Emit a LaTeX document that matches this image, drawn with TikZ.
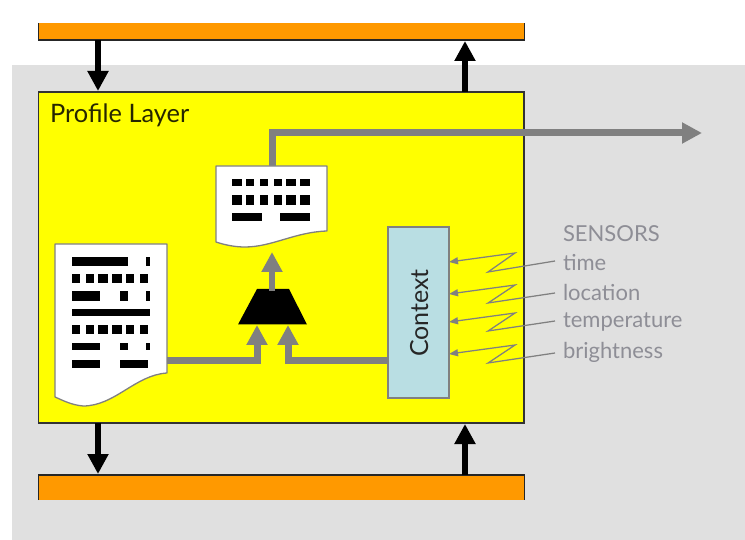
\documentclass[tikz,border=0pt]{standalone}
\usepackage{fontspec}
\setmainfont{Lato}
\usetikzlibrary{arrows.meta,calc}
\definecolor{bgG}{HTML}{E0E0E0}
\definecolor{orangeB}{HTML}{FF9900}
\definecolor{yellowB}{HTML}{FFFF00}
\definecolor{ctxB}{HTML}{B9DEE3}
\definecolor{pipeG}{HTML}{808080}
\definecolor{senseT}{HTML}{8E8E96}
\tikzset{
  bar/.style={fill=orangeB,draw=none,minimum width=486pt,inner sep=0pt,outer sep=0pt,anchor=north west},
  barline/.style={draw=black!85,line width=1.3pt},
  layerbox/.style={fill=yellowB,draw=black!80,line width=1.4pt,minimum width=485.5pt,minimum height=331pt,inner sep=0pt,outer sep=0pt,anchor=north west},
  ctxbox/.style={fill=ctxB,draw=pipeG,line width=1.2pt,minimum width=61pt,minimum height=171pt,inner sep=0pt,outer sep=0pt,anchor=north west},
  docshape/.style={fill=white,draw=pipeG,line width=1.3pt,line join=round},
  bigblack/.style={draw=black,line width=6pt,-{Triangle[width=20pt,length=20pt]}},
  pipe/.style={draw=pipeG,line width=7pt,-{Triangle[width=20pt,length=20pt]}},
  sense/.style={draw=pipeG,line width=1.25pt,line join=miter,-{Triangle[width=7pt,length=9pt]}},
  senselabel/.style={text=senseT,font=\fontsize{22}{24}\selectfont,anchor=base west,inner sep=0pt,outer sep=0pt},
  mk/.style={fill=black,draw=none},
}
\newcommand{\mkrow}[3]{\foreach \a/\b in {#3}{\fill[mk] (\a,#1) rectangle (\b,#2);}}
\begin{document}
\begin{tikzpicture}[x=1pt,y=-1pt]
\useasboundingbox (0,0) rectangle (745,540);
\node[fill=bgG,minimum width=733pt,minimum height=475pt,inner sep=0pt,outer sep=0pt,anchor=north west] (bg) at (12,65) {};
% buses
\node[bar,minimum height=17pt] (topbus) at (38.5,23) {};
\draw[barline] (topbus.north west) -- (topbus.south west) -- (topbus.south east) -- (topbus.north east);
\node[bar,minimum height=25pt] (botbus) at (38.5,475) {};
\draw[barline] (botbus.south west) -- (botbus.north west) -- (botbus.north east) -- (botbus.south east);
% layer
\node[layerbox] (layer) at (38.5,92) {};
\node[anchor=base west,inner sep=0pt,font=\fontsize{25.4}{27}\selectfont,text=black!85!yellowB] (title) at (50,122.5) {Profile Layer};
% context
\node[ctxbox] (ctx) at (388,227) {};
\node[rotate=90,anchor=base,inner sep=0pt,font=\fontsize{25}{27}\selectfont,text=black!85] (ctxt) at (428,313) {Context};
% bus arrows
\coordinate (a1s) at (98,40); \coordinate (a1e) at (98,91);
\coordinate (a2s) at (465,92); \coordinate (a2e) at (465,41);
\coordinate (a3s) at (98,423); \coordinate (a3e) at (98,474);
\coordinate (a4s) at (465,475); \coordinate (a4e) at (465,424);
\draw[bigblack] (a1s) -- (a1e);
\draw[bigblack] (a2s) -- (a2e);
\draw[bigblack] (a3s) -- (a3e);
\draw[bigblack] (a4s) -- (a4e);
% output pipe
\coordinate (docTop) at (272,167);
\coordinate (outEnd) at (702,133);
\draw[pipe] (docTop) |- (outEnd);
% big doc
\coordinate (bigR) at (167,360.5);
\draw[docshape] (55,244) -- (167,244) -- (167,373) .. controls (135,375) and (115,406) .. (83,406) .. controls (72,405) and (64,401) .. (55,397) -- cycle;
\mkrow{257}{266}{72/128,146/150}
\mkrow{274}{283}{72/80,86/94,98/108,112/122,126/134,140/148}
\mkrow{291}{301}{72/100,120/128,146/150}
\mkrow{309}{316}{72/150}
\mkrow{325}{334}{72/80,86/94,98/108,112/122,126/134,140/148}
\mkrow{343}{350}{72/100,120/128,146/150}
\mkrow{360}{368}{72/100,120/148}
% small doc
\draw[docshape] (216,166) -- (327,166) -- (327,231) .. controls (295,232) and (272,247) .. (245,247) .. controls (235,247) and (225,245) .. (216,242) -- cycle;
\mkrow{179}{186}{232/242,246/254,260/268,274/282,286/296,300/310}
\mkrow{195}{205}{232/242,246/254,260/268,274/282,286/296,300/310}
\mkrow{213}{221}{232/262,280/310}
% mux
\fill[black] (257,289) coordinate (muxTL) -- (289,289) coordinate (muxTR) -- (307,324.5) coordinate (muxBR) -- (238,324.5) coordinate (muxBL) -- cycle;
\coordinate (muxOut) at (272,291);
\coordinate (doc2Tip) at (272,252);
\draw[pipe,line width=6pt] (muxOut) -- (doc2Tip);
\coordinate (in1) at (257,325); \coordinate (in2) at (288,325);
\coordinate (ctxL) at (388,360.5);
\draw[pipe] (bigR) -| (in1);
\draw[pipe] (ctxL) -| (in2);
% sensors
\node[senselabel] (sens) at (563,242) {SENSORS};
\node[senselabel] (s1) at (563,271) {time};
\node[senselabel] (s2) at (563,301) {location};
\node[senselabel] (s3) at (563,328) {temperature};
\node[senselabel] (s4) at (563,359) {brightness};
\coordinate (t1) at (449,262); \coordinate (t2) at (449,294); \coordinate (t3) at (449,322); \coordinate (t4) at (449,354);
\draw[sense] (555,261) -- (488,272) -- (515,253) -- (t1);
\draw[sense] (555,293) -- (488,303) -- (515,285) -- (t2);
\draw[sense] (555,321) -- (488,331) -- (515,313) -- (t3);
\draw[sense] (555,353) -- (488,363) -- (515,345) -- (t4);
\end{tikzpicture}
\end{document}
